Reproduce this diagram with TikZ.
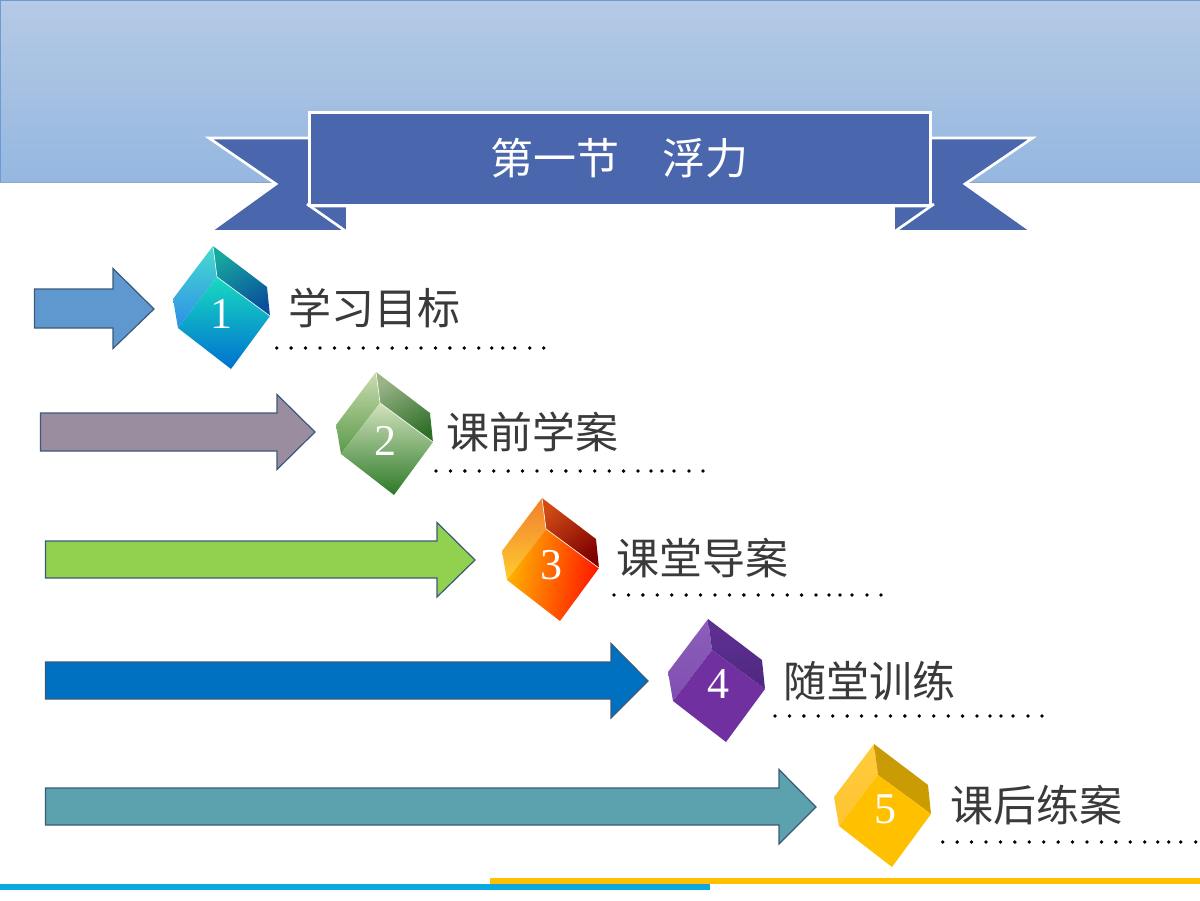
\documentclass[tikz,border=0pt]{standalone}
\usepackage{fontspec}
\setmainfont{Liberation Serif}
\newfontfamily\cjk{Noto Sans CJK SC}
\definecolor{ribbon}{HTML}{4A66AC}
\definecolor{inkgrey}{HTML}{3A3A3A}
\definecolor{arrowedge}{HTML}{3C5A78}
\definecolor{headtop}{HTML}{B5CAE5}
\definecolor{headbot}{HTML}{95B7E0}
\definecolor{headedge}{HTML}{6C9AD2}
\definecolor{headline}{HTML}{8FA6C0}
\definecolor{arA}{HTML}{5F98CF}
\definecolor{arB}{HTML}{9B8DA0}
\definecolor{arC}{HTML}{92D050}
\definecolor{arD}{HTML}{0070C0}
\definecolor{arE}{HTML}{5BA2AE}
\definecolor{ruleY}{HTML}{FFC000}
\definecolor{ruleB}{HTML}{0BA9E0}
\definecolor{aL1}{HTML}{46DCCE}\definecolor{aL2}{HTML}{2F8EE8}
\definecolor{aR1}{HTML}{16A8A0}\definecolor{aR2}{HTML}{0A4F9C}
\definecolor{aB1}{HTML}{18DAC0}\definecolor{aBm}{HTML}{12A4D8}\definecolor{aB2}{HTML}{0070D0}
\definecolor{bL1}{HTML}{CADBB0}\definecolor{bL2}{HTML}{5A9A48}
\definecolor{bR1}{HTML}{9AB488}\definecolor{bR2}{HTML}{2F6F28}
\definecolor{bB1}{HTML}{D2E2BC}\definecolor{bBm}{HTML}{94BC7E}\definecolor{bB2}{HTML}{2C7A28}
\definecolor{cL1}{HTML}{F07F2E}\definecolor{cL2}{HTML}{FFCC30}
\definecolor{cR1}{HTML}{D04A14}\definecolor{cR2}{HTML}{7E0000}
\definecolor{cB1}{HTML}{FFB400}\definecolor{cB2}{HTML}{FF1400}
\definecolor{dL1}{HTML}{8C5FBA}\definecolor{dL2}{HTML}{7F4FB0}
\definecolor{dR1}{HTML}{5E3094}\definecolor{dR2}{HTML}{4F2880}
\definecolor{dB1}{HTML}{7030A0}
\definecolor{eL1}{HTML}{FFCB3C}\definecolor{eL2}{HTML}{FFC430}
\definecolor{eR1}{HTML}{C89A08}\definecolor{eR2}{HTML}{CC9C00}
\definecolor{eB1}{HTML}{FFC000}
\tikzset{
  tailshape/.style={fill=ribbon,draw=white,line width=2pt,line join=miter},
  foldline/.style={draw=white,line width=2pt},
  bigarrow/.style={draw=arrowedge,line width=0.9pt,line join=miter},
  heading/.style={font=\cjk\fontsize{32.25}{38}\selectfont,text=white,inner sep=0pt},
  itemtext/.style={font=\cjk\fontsize{32.25}{38}\selectfont,text=inkgrey,inner sep=0pt},
  digit/.style={font=\fontsize{33}{36}\selectfont,text=white,inner sep=0pt},
  dotmark/.style={fill=black,draw=none}
}
% #1 name, #2 x, #3 y, #4 left face, #5 upper right face, #6 lower face, #7 edge opacity
\newcommand{\gemcube}[7]{%
  \begin{scope}[shift={(#2,#3)}]
    \coordinate (#1top) at (0,0);
    \coordinate (#1ru) at (54,41);
    \coordinate (#1r) at (57,70);
    \coordinate (#1b) at (18,123);
    \coordinate (#1ll) at (-35,82);
    \coordinate (#1lu) at (-40,53);
    \coordinate (#1c) at (4,31);
    \shade[#4] (#1top) -- (#1c) -- (#1ll) -- (#1lu) -- cycle;
    \shade[#5] (#1top) -- (#1ru) -- (#1r) -- (#1c) -- cycle;
    \shade[#6] (#1c) -- (#1r) -- (#1b) -- (#1ll) -- cycle;
    \draw[white,line width=0.5pt,opacity=#7] (#1top) -- (#1c) -- (#1r);
  \end{scope}}
% #1 first dot x, #2 y
\newcommand{\dotrow}[2]{%
  \foreach \dx in {0,14.43,28.86,43.29,57.72,72.15,86.58,101,115.44,129.87,144.3,158.73,173.16,187.6,202,215,226,238,253,267}
    \fill[dotmark] (#1+\dx,#2) circle[radius=1.9];}
\begin{document}
\begin{tikzpicture}[x=0.75pt,y=-0.75pt]
\clip (0,0) rectangle (1200,900);
\fill[white] (0,0) rectangle (1200,900);
% header band
\shade[top color=headtop,bottom color=headbot] (0,0) rectangle (1200,182);
\draw[draw=headedge,line width=0.75pt] (0.5,182) -- (0.5,0.5) -- (1200,0.5);
\draw[draw=headline,line width=0.6pt] (0,182) -- (1200,182);
% ribbon
\path[tailshape] (209,138) -- (312,138) -- (312,206) -- (347.5,206) -- (347.5,231.5) -- (210,231.5) -- (276,184) -- cycle;
\path[tailshape] (1032.5,138) -- (928,138) -- (928,206) -- (893.5,206) -- (893.5,231.5) -- (1032,231.5) -- (965,184) -- cycle;
\draw[foldline] (307,204) -- (347,232);
\draw[foldline] (934,204) -- (894,232);
\path[fill=ribbon,draw=white,line width=2pt] (309.5,112.5) rectangle (930.5,205.5);
\node[heading] (title) at (619,158) {第一节　浮力};
% arrows
\path[bigarrow,fill=arA] (34.5,289) -- (113,289) -- (113,268.5) -- (154,309) -- (113,348.5) -- (113,328) -- (34.5,328) -- cycle;
\path[bigarrow,fill=arB] (40.5,413) -- (277,413) -- (277,394.5) -- (315,432) -- (277,469.5) -- (277,451) -- (40.5,451) -- cycle;
\path[bigarrow,fill=arC] (45.5,541) -- (437,541) -- (437,522.5) -- (475,560) -- (437,597) -- (437,578) -- (45.5,578) -- cycle;
\path[bigarrow,fill=arD] (45.5,662) -- (611,662) -- (611,643.5) -- (648,681) -- (611,718) -- (611,699) -- (45.5,699) -- cycle;
\path[bigarrow,fill=arE] (45.5,788) -- (779,788) -- (779,769.5) -- (816,807) -- (779,844) -- (779,825) -- (45.5,825) -- cycle;
% cubes
\gemcube{a}{213}{246}{top color=aL1,bottom color=aL2}{top color=aR1,bottom color=aR2,shading angle=30}{top color=aB1,middle color=aBm,bottom color=aB2}{0.9}
\gemcube{b}{376}{372}{top color=bL1,bottom color=bL2}{top color=bR1,bottom color=bR2,shading angle=30}{top color=bB1,middle color=bBm,bottom color=bB2}{0.9}
\gemcube{c}{542}{498}{top color=cL1,bottom color=cL2}{top color=cR1,bottom color=cR2,shading angle=40}{top color=cB1,bottom color=cB2,shading angle=80}{0.9}
\gemcube{d}{708}{619}{top color=dL1,bottom color=dL2}{top color=dR1,bottom color=dR2}{top color=dB1,bottom color=dB1}{0}
\gemcube{e}{874}{744}{top color=eL1,bottom color=eL2}{top color=eR1,bottom color=eR2}{top color=eB1,bottom color=eB1}{0}
\node[digit] (n1) at (221,314) {1};
\node[digit] (n2) at (385,441) {2};
\node[digit] (n3) at (551,565) {3};
\node[digit] (n4) at (718,684) {4};
\node[digit] (n5) at (885,809) {5};
% labels
\node[itemtext] (t1) at (374,308) {学习目标};
\node[itemtext] (t2) at (532.5,432) {课前学案};
\node[itemtext] (t3) at (702.5,558) {课堂导案};
\node[itemtext] (t4) at (869,681) {随堂训练};
\node[itemtext] (t5) at (1036,805) {课后练案};
% dot leaders
\dotrow{276.7}{348}
\dotrow{436}{471}
\dotrow{614}{595}
\dotrow{775}{716}
\dotrow{942.7}{842}
% footer rules
\fill[ruleY] (490,878) rectangle (1200,884);
\fill[ruleB] (0,884) rectangle (710,890);
\end{tikzpicture}
\end{document}
